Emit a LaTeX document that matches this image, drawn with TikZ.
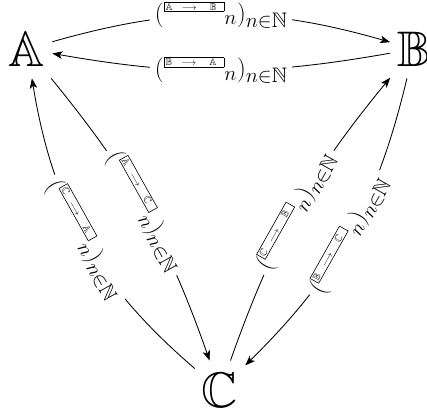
\documentclass[tikz,border=0pt]{standalone}
\usepackage{amsmath,amssymb}
\usetikzlibrary{arrows.meta}
\newcommand{\frm}[1]{{\setbox0=\hbox{#1}\vbox{\hrule height .6pt\hbox{\vrule width .6pt\kern1.2pt\vbox{\kern1.2pt\box0\kern1.2pt}\kern1.2pt\vrule width .6pt}\hrule height .6pt}}}
\newcommand{\arrbox}[2]{\raisebox{9.2pt}{\frm{\rule{0pt}{6.9pt}\makebox[57pt][l]{\fontsize{10}{11}\selectfont$#1$\hspace{9pt}\smash{\fontsize{9}{10}\selectfont$\longrightarrow$}\hfill$#2$\hspace{6pt}}}}}
\newcommand{\seqlab}[2]{$(\arrbox{\mathbb{#1}}{\mathbb{#2}}_n)_{n\in\mathbb{N}}$}
\begin{document}
\begin{tikzpicture}[x=1pt,y=-1pt,
  obj/.style={font=\fontsize{50}{54}\selectfont, inner xsep=7pt, inner ysep=12pt},
  lab/.style={font=\fontsize{30}{34}\selectfont, fill=white, inner sep=5pt},
  arr/.style={draw, line width=0.85pt, -{Stealth[length=10pt,width=7.5pt,inset=2.5pt]}}]
\useasboundingbox (0,0) rectangle (427,414);
\node[obj] (A) at (27,49) {$\mathbb{A}$};
\node[obj] (B) at (414,49) {$\mathbb{B}$};
\node[obj] (C) at (220,390) {$\mathbb{C}$};
\draw[arr] (A) to[bend left=16] node[lab] {\seqlab{A}{B}} (B);
\draw[arr] (B) to[bend left=10] node[lab] {\seqlab{B}{A}} (A);
\draw[arr] (C) to[bend left=20] node[lab,sloped] {\seqlab{C}{A}} (A);
\draw[arr] (A) to[bend left=10] node[lab,sloped] {\seqlab{A}{C}} (C);
\draw[arr] (C) to[bend left=10] node[lab,sloped] {\seqlab{C}{B}} (B);
\draw[arr] (B) to[bend left=16] node[lab,sloped] {\seqlab{B}{C}} (C);
\end{tikzpicture}
\end{document}
